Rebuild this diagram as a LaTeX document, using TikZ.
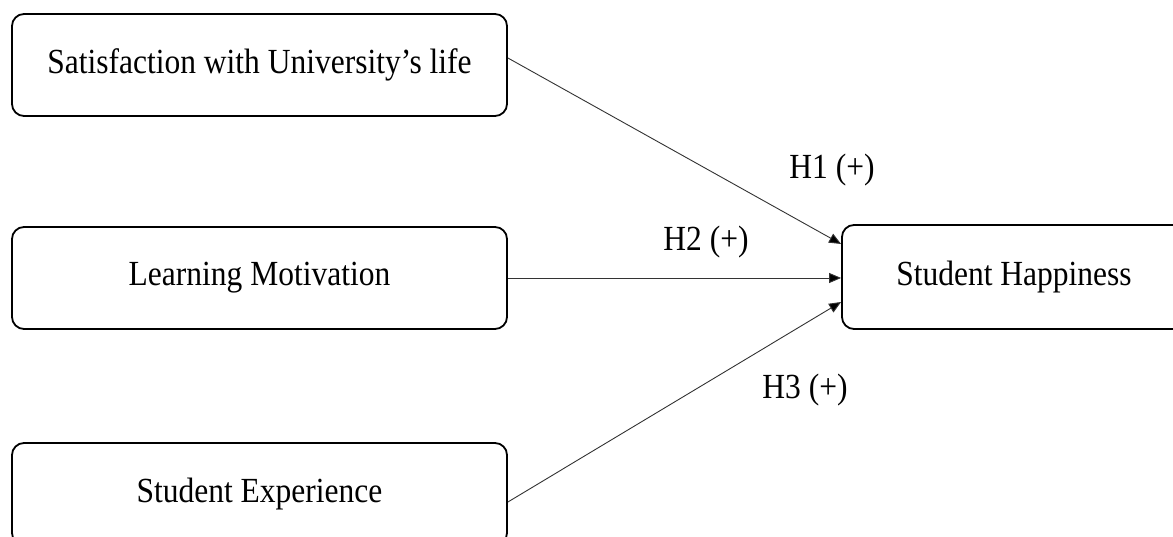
\documentclass[tikz,border=0pt]{standalone}
\usepackage{fontspec}
\setmainfont{Liberation Serif}
\usetikzlibrary{arrows.meta}
\newcommand{\tx}[1]{\scalebox{1}[1.12]{#1}}
\begin{document}
\begin{tikzpicture}[x=1pt,y=1pt,
  box/.style={draw, line width=1.8pt, rounded corners=12pt, minimum height=102pt, inner sep=0pt, font=\fontsize{31.5}{36}\selectfont},
  lbl/.style={inner sep=0pt, font=\fontsize{31.5}{36}\selectfont},
  conn/.style={line width=0.9pt, draw=black!80, -{Triangle[length=12pt,width=10pt,fill=black]}}]
\useasboundingbox (0,0) rectangle (1173,537);
\clip (0,0) rectangle (1173,537);
\fill[white] (0,0) rectangle (1173,537);
\node[box, minimum width=495pt] (b1) at (259.5,472) {\tx{Satisfaction with University’s life}};
\node[box, minimum width=495pt] (b2) at (259.5,259) {\tx{Learning Motivation}};
\node[box, minimum width=495pt] (b3) at (259.5,43) {\tx{Student Experience}};
\node[box, minimum width=344pt, minimum height=104pt] (sh) at (1014,260) {\tx{Student Happiness}};
\coordinate (s1) at ([yshift=7pt]b1.east);
\coordinate (s3) at ([yshift=-8pt]b3.east);
\draw[conn] (s1) -- ([yshift=33pt]sh.west);
\draw[conn] (b2.east) -- ([yshift=-1pt]sh.west);
\draw[conn] (s3) -- ([yshift=-25pt]sh.west);
\node[lbl] (h1) at (832,367) {\tx{H1 (+)}};
\node[lbl] (h2) at (706,295) {\tx{H2 (+)}};
\node[lbl] (h3) at (805,147) {\tx{H3 (+)}};
\end{tikzpicture}
\end{document}
